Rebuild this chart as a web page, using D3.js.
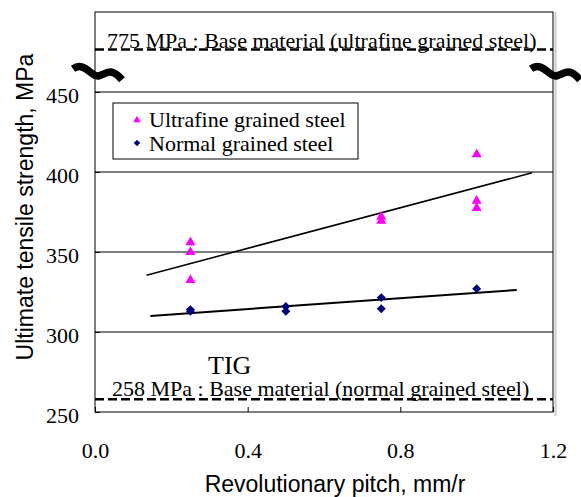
<!DOCTYPE html>
<html>
<head>
<meta charset="utf-8">
<script src="https://d3js.org/d3.v7.min.js"></script>
<style>
  body { margin: 0; background: #fff; }
  .serif { font-family: "Liberation Serif", "Times New Roman", serif; }
  .sans { font-family: "Liberation Sans", Arial, sans-serif; }
</style>
</head>
<body>
<div id="chart"></div>
<script>
// data
var ufPitch    = [0.25, 0.25, 0.25, 0.75, 0.75, 1.0, 1.0, 1.0];
var ufStrength = [356, 350, 332.5, 372, 369.5, 411, 382, 377.5];
var ngPitch    = [0.25, 0.25, 0.5, 0.5, 0.75, 0.75, 1.0];
var ngStrength = [314, 313, 316, 313, 321.5, 314.5, 327];

// fitted lines (end points as drawn)
var ufTrendPitch    = [0.135, 1.145];
var ufTrendStrength = [335.5, 399.5];
var ngTrendPitch    = [0.145, 1.105];
var ngTrendStrength = [310, 326.3];

var xTicks = [0.0, 0.4, 0.8, 1.2];
var yTicks = [250, 300, 350, 400, 450];
var gridValues = [300, 350, 400, 450];

var baseValues = [775, 258];
var baseLabels = ['775 MPa : Base material (ultrafine grained steel)',
                  '258 MPa : Base material (normal grained steel)'];
var legendLabels = ['Ultrafine grained steel', 'Normal grained steel'];

var margin = {top: 12, right: 28, bottom: 85, left: 95};
var W = 581, H = 497;
var width = W - margin.left - margin.right;
var height = H - margin.top - margin.bottom;

var x = d3.scaleLinear().domain([0, 1.2]).range([0, width]);
// broken axis: 250-450 linear, then compressed up to 775
var y = d3.scaleLinear().domain([250, 450, 775]).range([height, 80, 37.5]);

var svg = d3.select('#chart').append('svg')
    .attr('width', W).attr('height', H);
var g = svg.append('g')
    .attr('transform', 'translate(' + margin.left + ',' + margin.top + ')');

// gridlines
g.selectAll('.grid').data(gridValues).enter().append('line')
    .attr('x1', 0).attr('x2', width)
    .attr('y1', function(d) { return y(d); })
    .attr('y2', function(d) { return y(d); })
    .style('stroke', '#000').style('stroke-width', 1);

// axes
var xAxis = d3.axisBottom(x).tickValues(xTicks).tickSize(-5).tickFormat(d3.format('.1f'));
var xg = g.append('g').attr('transform', 'translate(0,' + height + ')').call(xAxis);
xg.select('.domain').remove();
xg.selectAll('text').attr('class', 'serif').style('font-size', '22px')
    .attr('y', 46).attr('dy', 0).style('fill', '#000');

var yAxis = d3.axisLeft(y).tickValues(yTicks).tickSize(-5);
var yg = g.append('g').call(yAxis);
yg.select('.domain').remove();
yg.selectAll('text').attr('class', 'serif').style('font-size', '22px')
    .attr('x', -16).attr('dy', 10).style('fill', '#000');

// frame
g.append('rect').attr('x', 0).attr('y', 0).attr('width', width).attr('height', height)
    .style('fill', 'none').style('stroke', '#000').style('stroke-width', 1);
g.append('line').attr('x1', width + 2.5).attr('x2', width + 2.5).attr('y1', 0).attr('y2', height + 4)
    .style('stroke', '#ccc').style('stroke-width', 2);

// base material lines
g.selectAll('.base').data(baseValues).enter().append('line')
    .attr('x1', 0).attr('x2', width)
    .attr('y1', function(d) { return y(d); })
    .attr('y2', function(d) { return y(d); })
    .style('stroke', '#000').style('stroke-width', 2.5)
    .style('stroke-dasharray', '9,4');

g.append('text').attr('class', 'serif').style('font-size', '22px')
    .attr('x', 12).attr('y', y(baseValues[0]) - 2).text(baseLabels[0]);
g.append('text').attr('class', 'serif').style('font-size', '22px')
    .attr('x', 17).attr('y', y(baseValues[1]) - 3).text(baseLabels[1]);
g.append('text').attr('class', 'serif').style('font-size', '26px')
    .attr('x', 113).attr('y', y(baseValues[1]) - 25).text('TIG');

// axis break marks
function breakMark(cx, cy) {
  var p = d3.path();
  p.moveTo(cx - 24, cy - 4);
  p.bezierCurveTo(cx - 12, cy - 12, cx - 6, cy + 5, cx + 2, cy + 3);
  p.bezierCurveTo(cx + 10, cy + 1, cx + 14, cy - 6, cx + 25, cy + 7);
  return p.toString();
}
var breakY = (y(450) + y(775)) / 2 + 2;
[0, width].forEach(function(bx) {
  g.append('path').attr('d', breakMark(bx + 2, breakY))
      .style('fill', 'none').style('stroke', '#000').style('stroke-width', 7.5);
});

// trend lines
g.append('line')
    .attr('x1', x(ufTrendPitch[0])).attr('y1', y(ufTrendStrength[0]))
    .attr('x2', x(ufTrendPitch[1])).attr('y2', y(ufTrendStrength[1]))
    .style('stroke', '#000').style('stroke-width', 1.5);
g.append('line')
    .attr('x1', x(ngTrendPitch[0])).attr('y1', y(ngTrendStrength[0]))
    .attr('x2', x(ngTrendPitch[1])).attr('y2', y(ngTrendStrength[1]))
    .style('stroke', '#000').style('stroke-width', 2);

// points
var tri = d3.symbol().type(d3.symbolTriangle).size(44);
var dia = d3.symbol().type(d3.symbolSquare).size(40);

g.selectAll('.uf').data(ufPitch).enter().append('path')
    .attr('d', tri)
    .attr('transform', function(d, i) { return 'translate(' + x(d) + ',' + y(ufStrength[i]) + ')'; })
    .style('fill', '#FF00FF');

g.selectAll('.ng').data(ngPitch).enter().append('path')
    .attr('d', dia)
    .attr('transform', function(d, i) { return 'translate(' + x(d) + ',' + y(ngStrength[i]) + ') rotate(45)'; })
    .style('fill', '#000080');

// legend
var lg = g.append('g').attr('transform', 'translate(18,91)');
lg.append('rect').attr('width', 245).attr('height', 56)
    .style('fill', '#fff').style('stroke', '#000').style('stroke-width', 1);
lg.append('path').attr('d', d3.symbol().type(d3.symbolTriangle).size(24))
    .attr('transform', 'translate(24,17)').style('fill', '#FF00FF');
lg.append('path').attr('d', d3.symbol().type(d3.symbolSquare).size(22))
    .attr('transform', 'translate(24,40) rotate(45)').style('fill', '#000080');
lg.selectAll('.lt').data(legendLabels).enter().append('text')
    .attr('class', 'serif').style('font-size', '22px')
    .attr('x', 36).attr('y', function(d, i) { return 24 + i * 24; })
    .text(function(d) { return d; });

// axis titles
svg.append('text').attr('class', 'sans').style('font-size', '23px')
    .attr('text-anchor', 'middle')
    .attr('x', margin.left + width / 2 + 11).attr('y', 492)
    .text('Revolutionary pitch, mm/r');
svg.append('text').attr('class', 'sans').style('font-size', '23px')
    .attr('text-anchor', 'middle')
    .attr('transform', 'translate(33,' + 207 + ') rotate(-90)')
    .text('Ultimate tensile strength, MPa');
</script>
</body>
</html>
